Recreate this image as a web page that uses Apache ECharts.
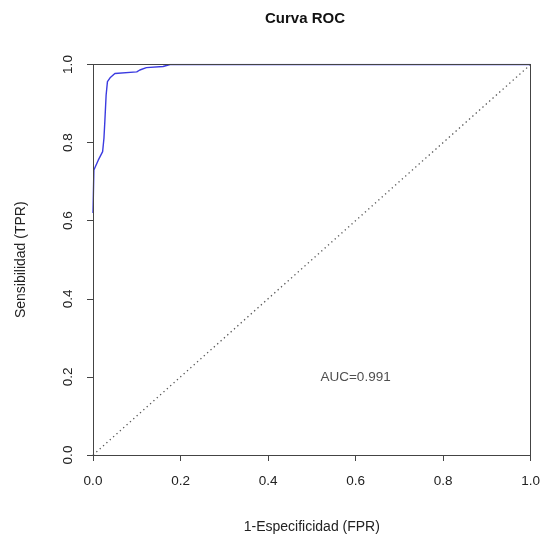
<!DOCTYPE html>
<html>
<head>
<meta charset="utf-8">
<script src="https://cdn.jsdelivr.net/npm/echarts@6/dist/echarts.min.js"></script>
<style>html,body{margin:0;padding:0;background:#fff;}#c{width:543px;height:542px;}</style>
</head>
<body>
<div id="c"></div>
<script>
// ROC curve points (FPR, TPR)
var fpr = [0, 0.002, 0.012, 0.022, 0.025, 0.027, 0.030, 0.033, 0.039, 0.050, 0.100, 0.107, 0.122, 0.160, 0.176, 1.0];
var tpr = [0.62, 0.73, 0.755, 0.777, 0.811, 0.853, 0.922, 0.956, 0.966, 0.977, 0.981, 0.986, 0.992, 0.995, 1.0, 1.0];
var diagX = [0, 1];
var diagY = [0, 1];
var aucText = 'AUC=0.991';
var aucPos = [0.6, 0.2];
var tickLabels = ['0.0', '0.2', '0.4', '0.6', '0.8', '1.0'];

var font = '"Liberation Sans", Arial, Helvetica, sans-serif';
var rocData = fpr.map(function (x, i) { return [x, tpr[i]]; });
var diagData = diagX.map(function (x, i) { return [x, diagY[i]]; });

function lab(v) { return tickLabels[Math.round(v * 5)]; }

var chart = echarts.init(document.getElementById('c'), null, { renderer: 'canvas' });
var axisCol = '#444';
chart.setOption({
  backgroundColor: '#fff',
  animation: false,
  title: {
    text: 'Curva ROC', left: 300, top: 6, textAlign: 'center',
    textStyle: { fontFamily: font, fontSize: 15, fontWeight: 'bold', color: '#111' }
  },
  grid: { left: 93, right: 12, top: 64.5, bottom: 87 },
  xAxis: [{
    type: 'value', min: 0, max: 1, interval: 0.2, position: 'bottom', z: 10,
    name: '1-Especificidad (FPR)', nameLocation: 'middle', nameGap: 65,
    nameTextStyle: { fontFamily: font, fontSize: 14, color: '#222' },
    axisLine: { show: true, onZero: false, lineStyle: { color: axisCol, width: 1 } },
    axisTick: { show: true, inside: false, length: 6, lineStyle: { color: axisCol } },
    axisLabel: { margin: 19, fontFamily: font, fontSize: 13.5, color: '#222', formatter: lab },
    splitLine: { show: false }
  }, {
    type: 'value', min: 0, max: 1, position: 'top', z: 10,
    axisLine: { show: true, onZero: false, lineStyle: { color: axisCol, width: 1 } },
    axisTick: { show: false }, axisLabel: { show: false }, splitLine: { show: false }
  }],
  yAxis: [{
    type: 'value', min: 0, max: 1, interval: 0.2, position: 'left', z: 10,
    name: 'Sensibilidad (TPR)', nameLocation: 'middle', nameGap: 65, nameRotate: 90,
    nameTextStyle: { fontFamily: font, fontSize: 14, color: '#222' },
    axisLine: { show: true, onZero: false, lineStyle: { color: axisCol, width: 1 } },
    axisTick: { show: true, inside: false, length: 6, lineStyle: { color: axisCol } },
    axisLabel: { margin: 18, rotate: 90, fontFamily: font, fontSize: 13.5, color: '#222', formatter: lab },
    splitLine: { show: false }
  }, {
    type: 'value', min: 0, max: 1, position: 'right', z: 10,
    axisLine: { show: true, onZero: false, lineStyle: { color: axisCol, width: 1 } },
    axisTick: { show: false }, axisLabel: { show: false }, splitLine: { show: false }
  }],
  series: [{
    type: 'line', data: diagData, symbol: 'none', xAxisIndex: 0, yAxisIndex: 0,
    lineStyle: { color: '#555', width: 1.3, type: [1.3, 3.2] }, z: 2
  }, {
    type: 'line', data: rocData, symbol: 'none', xAxisIndex: 0, yAxisIndex: 0,
    lineStyle: { color: '#3b3be0', width: 1.4 }, z: 3
  }, {
    type: 'scatter', data: [aucPos], symbolSize: 0, xAxisIndex: 0, yAxisIndex: 0,
    label: { show: true, position: 'inside', formatter: function () { return aucText; },
      fontFamily: font, fontSize: 13.5, color: '#222' },
    z: 4
  }]
});
</script>
</body>
</html>
